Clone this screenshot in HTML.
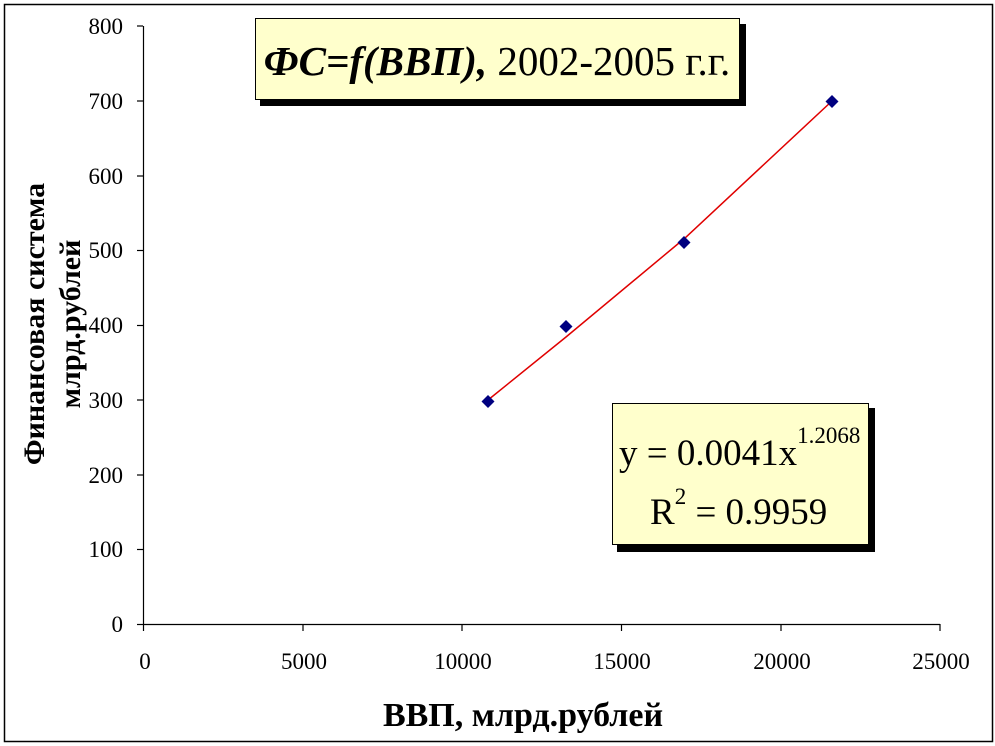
<!DOCTYPE html>
<html><head><meta charset="utf-8"><style>body{margin:0;background:#fff}svg{display:block}</style></head>
<body>
<svg width="995" height="746" xmlns="http://www.w3.org/2000/svg" font-family="Liberation Serif, serif">
<rect x="4.5" y="4.5" width="988" height="737" fill="#fff" stroke="#000" stroke-width="1.5"/>
<g stroke="#000" stroke-width="1.2" fill="none">
<line x1="143.5" y1="26" x2="143.5" y2="625"/>
<line x1="143" y1="624.5" x2="940" y2="624.5"/>
<line x1="137" y1="26" x2="143" y2="26"/>
<line x1="137" y1="101" x2="143" y2="101"/>
<line x1="137" y1="176" x2="143" y2="176"/>
<line x1="137" y1="250.5" x2="143" y2="250.5"/>
<line x1="137" y1="325.5" x2="143" y2="325.5"/>
<line x1="137" y1="400" x2="143" y2="400"/>
<line x1="137" y1="475" x2="143" y2="475"/>
<line x1="137" y1="549.5" x2="143" y2="549.5"/>
<line x1="137" y1="624.5" x2="143" y2="624.5"/>
<line x1="143.5" y1="624" x2="143.5" y2="631"/>
<line x1="303" y1="624" x2="303" y2="631"/>
<line x1="462" y1="624" x2="462" y2="631"/>
<line x1="621.5" y1="624" x2="621.5" y2="631"/>
<line x1="781" y1="624" x2="781" y2="631"/>
<line x1="940" y1="624" x2="940" y2="631"/>
</g>
<g font-size="23" text-anchor="end">
<text x="123" y="34">800</text><text x="123" y="109">700</text><text x="123" y="184">600</text>
<text x="123" y="258">500</text><text x="123" y="333">400</text><text x="123" y="408">300</text>
<text x="123" y="483">200</text><text x="123" y="557">100</text><text x="123" y="632">0</text>
</g>
<g font-size="23" text-anchor="middle">
<text x="145" y="669">0</text><text x="304" y="669">5000</text><text x="463" y="669">10000</text>
<text x="622" y="669">15000</text><text x="782" y="669">20000</text><text x="941" y="669">25000</text>
</g>
<text x="523" y="726" font-size="34" font-weight="bold" text-anchor="middle">ВВП, млрд.рублей</text>
<g transform="translate(44,324) rotate(-90)" font-size="30" font-weight="bold" text-anchor="middle">
<text x="0" y="0">Финансовая система</text>
<text x="0" y="36">млрд.рублей</text>
</g>
<path d="M488,400 L566,337 L685,238 L832,101" fill="none" stroke="#e00000" stroke-width="1.5"/>
<g fill="#000080">
<path d="M488,395 l6.5,6.5 l-6.5,6.5 l-6.5,-6.5z"/>
<path d="M566,320 l6.5,6.5 l-6.5,6.5 l-6.5,-6.5z"/>
<path d="M684,236 l6.5,6.5 l-6.5,6.5 l-6.5,-6.5z"/>
<path d="M832,95 l6.5,6.5 l-6.5,6.5 l-6.5,-6.5z"/>
</g>
<rect x="260" y="24" width="486" height="82" fill="#000"/>
<rect x="255.5" y="18.5" width="484" height="81" fill="#ffffcc" stroke="#000" stroke-width="1"/>
<text x="497" y="75" font-size="41" text-anchor="middle"><tspan font-weight="bold" font-style="italic">ФС=f(ВВП),</tspan> 2002-2005 г.г.</text>
<rect x="617" y="408" width="258" height="144" fill="#000"/>
<rect x="612.5" y="403.5" width="256" height="141" fill="#ffffcc" stroke="#000" stroke-width="1"/>
<text x="619" y="465" font-size="37">y = 0.0041x<tspan font-size="23" dy="-22">1.2068</tspan></text>
<text x="650" y="524" font-size="37">R<tspan font-size="23" dy="-20">2</tspan><tspan dy="20"> = 0.9959</tspan></text>
</svg>
</body></html>
